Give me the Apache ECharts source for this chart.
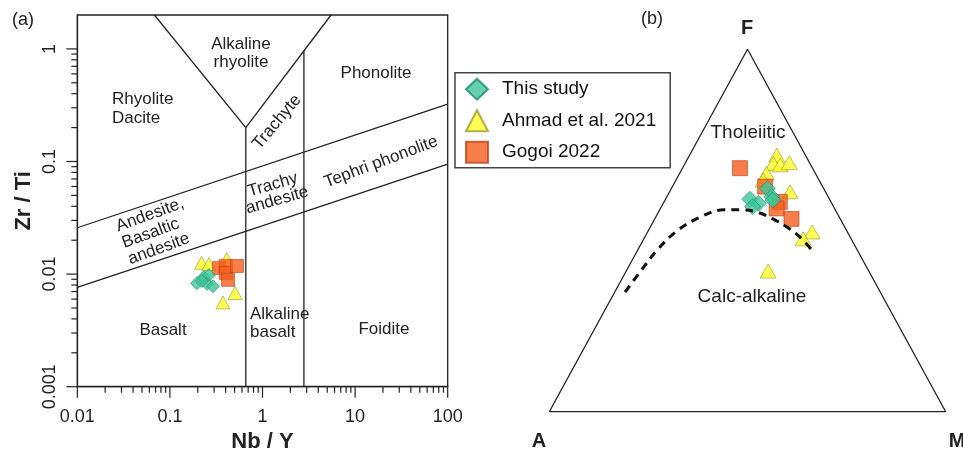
<!DOCTYPE html>
<html><head><meta charset="utf-8">
<script src="https://cdn.jsdelivr.net/npm/echarts@6/dist/echarts.min.js"></script>
<style>html,body{margin:0;padding:0;background:#fff}#c{width:963px;height:450px}</style>
</head><body><div id="c"></div>
<script>
// ---------- Panel (a): Nb/Y vs Zr/Ti ----------
const thisStudyA = [[0.196,0.0083],[0.233,0.0094],[0.264,0.0098],[0.252,0.0082],[0.292,0.0078],[0.222,0.0087]];
const ahmadA = [[0.220,0.0126],[0.264,0.0123],[0.410,0.0136],[0.505,0.0068],[0.374,0.0056]];
const gogoiA = [[0.339,0.0113],[0.400,0.0118],[0.403,0.0102],[0.531,0.0118],[0.424,0.0089]];
// field boundaries (Nb/Y, Zr/Ti)
const vLeftArm = [[0.068,2],[0.66,0.2]];
const vRightArm = [[0.66,0.2],[5.5,2]];
const vertical1 = [[0.66,0.001],[0.66,0.2]];
const vertical2 = [[2.8,0.001],[2.8,0.97]];
const upperDiag = [[0.01,0.0258],[100,0.324]];
const lowerDiag = [[0.01,0.00763],[100,0.0948]];
const xTickLabels = [0.01,0.1,1,10,100];
const yTickLabels = [0.001,0.01,0.1,1];

// ---------- Panel (b): AFM ternary, [A, F, M] % ----------
const thisStudyB = [[20.1,58.6,21.3],[18.5,57.5,24.0],[20.4,56.6,23.0],[14.2,61.6,24.2],[14.2,59.3,26.5],[14.4,58.4,27.2]];
const ahmadB = [[7.2,70.8,22.0],[9.2,68.5,22.3],[7.7,68.1,24.2],[5.1,68.7,26.2],[12.3,65.8,21.9],[14.1,63.9,22.0],[8.9,60.7,30.4],[8.9,49.6,41.5],[12.1,47.7,40.2],[25.4,38.8,35.8]];
const gogoiB = [[18.3,67.2,14.5],[14.5,62.1,23.4],[12.9,57.9,29.2],[14.6,56.1,29.3],[12.3,53.2,34.5]];
const tholeiiticBoundary = [[64.4,33.0,2.6],[57.9,38.5,3.6],[50.5,44.6,4.9],[42.8,49.9,7.3],[35.1,53.7,11.2],[28.1,55.7,16.2],[23.6,55.7,20.7],[20.1,55.1,24.8],[17.0,53.2,29.8],[14.1,50.4,35.5],[12.3,47.4,40.3],[11.4,44.1,44.5]];
const triangleVertices = [[100,0,0],[0,0,100],[0,100,0],[100,0,0]];

function tern(p){ const s=p[0]+p[1]+p[2]; const F=p[1]/s, M=p[2]/s; return [M+F/2, F]; }

const FONT = '"Liberation Sans", Arial, sans-serif';
const INK = '#222';

// tick marks for panel (a) (axis structure)
const tickData = [];
const xMin=0.01, yMin=0.001;
for (let k=-2;k<=2;k++){ const d=Math.pow(10,k); tickData.push([d,yMin,1]); if(k<2) for(let m=2;m<=9;m++) tickData.push([m*d,yMin,0]); }
for (let k=-3;k<=0;k++){ const d=Math.pow(10,k); tickData.push([xMin,d,3]); if(k<0) for(let m=2;m<=9;m++) tickData.push([xMin,m*d,2]); }

const styleGreen = {color:'#3cc59a', borderColor:'#1e8a68', borderWidth:0.8};
const styleYellow = {color:'#ffff26', borderColor:'#9c9a3c', borderWidth:0.8};
const styleOrange = {color:'#f55d1e', borderColor:'#b8461c', borderWidth:0.8};

function fmtLog(v){ const l=Math.log10(v); return Math.abs(l-Math.round(l))<1e-6 ? String(Number(v.toPrecision(6))) : ''; }

function boundary(data, extra){ return Object.assign({type:'line', data:data, xAxisIndex:0, yAxisIndex:0, showSymbol:false, silent:true, clip:false, lineStyle:{color:INK, width:1.3}}, extra||{}); }

function txt(t, x, y, o){
  o = o||{};
  return {type:'text', x:x, y:y, rotation:(o.rot||0)*Math.PI/180, silent:true,
    style:{text:t, x:0, y:0, fill:o.fill||INK, font:(o.weight||'normal')+' '+(o.size||17)+'px '+FONT,
      align:o.align||'center', verticalAlign:o.va||'middle', lineHeight:o.lh||18}};
}

const chart = echarts.init(document.getElementById('c'), null, {renderer:'canvas'});
chart.setOption({
  animation:false,
  backgroundColor:'#fff',
  grid:[
    {left:77.3, top:15, width:370.4, height:371.7, show:true, borderColor:INK, borderWidth:1.3, backgroundColor:'transparent', outerBoundsMode:'none', containLabel:false},
    {left:549.3, top:49.3, width:396.4, height:362.4, outerBoundsMode:'none', containLabel:false}
  ],
  xAxis:[
    {type:'log', gridIndex:0, min:0.01, max:100, logBase:10,
     axisLine:{lineStyle:{color:INK,width:1.3}}, axisTick:{show:false}, splitLine:{show:false},
     axisLabel:{formatter:fmtLog, fontSize:18, color:INK, fontFamily:FONT, margin:21},
     name:'Nb / Y', nameLocation:'middle', nameGap:39,
     nameTextStyle:{fontSize:22, fontWeight:'bold', color:INK, fontFamily:FONT}},
    {type:'value', gridIndex:1, min:0, max:1, show:false}
  ],
  yAxis:[
    {type:'log', gridIndex:0, min:0.001, max:2, logBase:10,
     axisLine:{lineStyle:{color:INK,width:1.3}}, axisTick:{show:false}, splitLine:{show:false},
     axisLabel:{formatter:fmtLog, fontSize:18, color:INK, fontFamily:FONT, rotate:90, margin:18},
     name:'Zr / Ti', nameLocation:'middle', nameGap:42,
     nameTextStyle:{fontSize:22, fontWeight:'bold', color:INK, fontFamily:FONT}},
    {type:'value', gridIndex:1, min:0, max:1, show:false}
  ],
  legend:{
    left:455, top:72.7, orient:'vertical', selectedMode:false,
    data:[{name:'This study', icon:'diamond'},{name:'Ahmad et al. 2021', icon:'triangle'},{name:'Gogoi 2022', icon:'rect'}],
    itemWidth:22, itemHeight:21, itemGap:8.5,
    padding:[5,14,4,10], borderColor:'#444', borderWidth:1.5,
    textStyle:{fontSize:19, color:'#111', fontFamily:FONT, padding:[0,0,0,9]}
  },
  series:[
    {type:'custom', xAxisIndex:0, yAxisIndex:0, silent:true, clip:false, data:tickData,
     dimensions:['x','y','k'], encode:{x:'x', y:'y'},
     renderItem:function(params, api){
       const k=api.value(2); const p=api.coord([api.value(0), api.value(1)]);
       let sh;
       if (k<2){ const len = k===1?11:6; sh={x1:p[0],y1:p[1],x2:p[0],y2:p[1]+len}; }
       else { const len = k===3?11:6; sh={x1:p[0]-len,y1:p[1],x2:p[0],y2:p[1]}; }
       return {type:'line', shape:sh, style:{stroke:INK, lineWidth:1.2}};
     }},
    boundary(vLeftArm), boundary(vRightArm), boundary(vertical1), boundary(vertical2),
    boundary(upperDiag), boundary(lowerDiag),
    {type:'scatter', name:'Ahmad et al. 2021', xAxisIndex:0, yAxisIndex:0, data:ahmadA, symbol:'triangle', symbolSize:[14,13], itemStyle:styleYellow},
    {type:'scatter', name:'Gogoi 2022', xAxisIndex:0, yAxisIndex:0, data:gogoiA, symbol:'rect', symbolSize:13, itemStyle:styleOrange},
    {type:'scatter', name:'This study', xAxisIndex:0, yAxisIndex:0, data:thisStudyA, symbol:'diamond', symbolSize:13, itemStyle:styleGreen},
    // panel (b)
    {type:'line', xAxisIndex:1, yAxisIndex:1, data:triangleVertices.map(tern), showSymbol:false, silent:true, clip:false,
     lineStyle:{color:INK, width:1.3}},
    {type:'line', xAxisIndex:1, yAxisIndex:1, data:tholeiiticBoundary.map(tern), showSymbol:false, silent:true, clip:false, smooth:0.4,
     lineStyle:{color:'#111', width:3, type:[8,6]}},
    {type:'scatter', name:'Ahmad et al. 2021', xAxisIndex:1, yAxisIndex:1, data:ahmadB.map(tern), symbol:'triangle', symbolSize:[16,14], itemStyle:styleYellow},
    {type:'scatter', name:'Gogoi 2022', xAxisIndex:1, yAxisIndex:1, data:gogoiB.map(tern), symbol:'rect', symbolSize:15, itemStyle:styleOrange},
    {type:'scatter', name:'This study', xAxisIndex:1, yAxisIndex:1, data:thisStudyB.map(tern), symbol:'diamond', symbolSize:16, itemStyle:styleGreen}
  ],
  graphic:[
    txt('(a)', 23, 20, {size:18}),
    txt('(b)', 652, 19, {size:18}),
    txt('Alkaline\nrhyolite', 241, 53),
    txt('Phonolite', 376, 73),
    txt('Rhyolite\nDacite', 112, 108.5, {align:'left', lh:19}),
    txt('Trachyte', 277, 122, {rot:50}),
    txt('Tephri phonolite', 381, 162, {rot:20.6}),
    txt('Trachy\nandesite', 275, 192.5, {rot:16, lh:16}),
    txt('Andesite,\nBasaltic\nandesite', 122.7, 243.5, {rot:20, align:'left', lh:17.5}),
    txt('Basalt', 163, 330),
    txt('Alkaline\nbasalt', 250, 323, {align:'left'}),
    txt('Foidite', 384, 329),
    txt('F', 747, 28, {size:20, weight:'bold'}),
    txt('A', 539, 441, {size:20, weight:'bold'}),
    txt('M', 957, 441, {size:20, weight:'bold'}),
    txt('Tholeiitic', 748, 133, {size:19}),
    txt('Calc-alkaline', 752, 297, {size:19})
  ]
});
</script>
</body></html>
